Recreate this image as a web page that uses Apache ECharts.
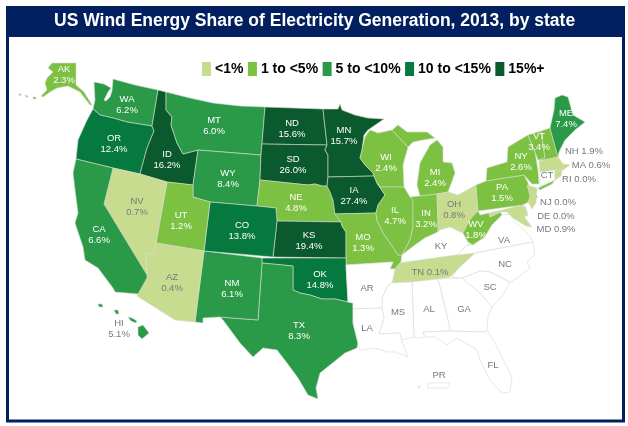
<!DOCTYPE html>
<html>
<head>
<meta charset="utf-8">
<script src="https://cdn.jsdelivr.net/npm/echarts@6/dist/echarts.min.js"></script>
<style>
html,body{margin:0;padding:0;background:#fff;}
#chart{width:628px;height:426px;}
</style>
</head>
<body>
<div id="chart"></div>
<script>
// share of generation, 2013
var states=["AK","WA","OR","ID","MT","WY","ND","SD","NE","MN","IA","KS","MO","OK","TX","NM","CO","UT","AZ","NV","CA","HI","WI","IL","MI","IN","OH","TN","WV","PA","NY","VT","NH","ME","MA","RI","NJ","DE","MD"];
var shares=[2.3,6.2,12.4,16.2,6.0,8.4,15.6,26.0,4.8,15.7,27.4,19.4,1.3,14.8,8.3,6.1,13.8,1.2,0.4,0.7,6.6,5.1,2.4,4.7,2.4,3.2,0.8,0.1,1.8,1.5,2.6,3.4,1.9,7.4,0.6,0.0,0.0,0.0,0.9];

// legend classes
var classLabels=["<1%","1 to <5%","5 to <10%","10 to <15%","15%+"];
var classFrom=[0,1,5,10,15];
var classColors=["#c8dc90","#7cc142","#2b9a48","#067a3e","#0a5a2e"];

// labels that stay grey, and labels written on one line
var greyLabels=["NV","AZ","OH","TN","HI","NH","MA","RI","NJ","DE","MD"];
var oneLine=["TN","NH","MA","RI","NJ","DE","MD"];

// base map, in the map's own units (y goes down)
var outlines={
AK:[[[52,63],[76,63],[76,85],[84,92],[92,105],[90,105],[80,92],[68,86],[57,88],[50,92],[43,97],[41,96],[47,90],[45,83],[47,78],[53,72],[48,68]],[[33,97],[36,97],[36,99],[33,99]],[[25,95],[28,96],[27,98]],[[18,94],[21,94],[21,96]]],
WA:[[[94,82],[104,84],[111,88],[108,92],[104,100],[106,101],[110,97],[112,91],[113,79],[135,85],[158,90],[152,126],[127,122],[113,118],[100,115],[93,109],[95,100]]],
OR:[[[93,109],[100,115],[113,118],[127,122],[152,126],[154,131],[147,148],[140,174],[113,168],[76,159],[78,140],[87,120]]],
ID:[[[158,90],[166,92],[166,110],[172,117],[171,125],[177,143],[183,154],[198,150],[193,185],[167,182],[140,174],[147,148],[154,131],[152,126]]],
MT:[[[166,92],[190,98],[213,103],[240,106],[265,107],[262,144],[261,155],[198,150],[183,154],[177,143],[171,125],[172,117],[166,110]]],
WY:[[[198,150],[261,155],[260,180],[257,206],[210,202],[193,197],[193,185]]],
ND:[[[265,107],[323,109],[327,145],[262,144]]],
SD:[[[262,144],[327,145],[325,150],[328,155],[328,177],[327,186],[322,186],[315,184],[308,185],[260,180],[261,155]]],
NE:[[[260,180],[308,185],[315,184],[322,186],[327,186],[330,192],[333,200],[335,214],[341,222],[277,221],[276,208],[257,206]]],
MN:[[[323,109],[338,109],[340,104],[342,110],[355,115],[368,118],[384,119],[368,130],[364,135],[362,150],[360,158],[365,165],[373,173],[374,176],[328,177],[328,155],[325,150],[327,145]]],
IA:[[[328,177],[374,176],[377,183],[385,195],[378,205],[376,213],[335,214],[333,200],[330,192],[327,186]]],
KS:[[[277,221],[341,222],[342,226],[346,232],[346,258],[273,257]]],
MO:[[[335,214],[376,213],[377,220],[383,233],[390,243],[398,255],[402,255],[401,262],[395,269],[390,269],[393,262],[346,265],[346,232],[342,226],[341,222]]],
OK:[[[262,258],[346,258],[346,265],[348,302],[335,299],[322,299],[310,295],[300,293],[293,290],[293,266],[262,263]]],
TX:[[[262,263],[293,266],[293,290],[300,293],[310,295],[322,299],[335,299],[348,302],[353,303],[353,323],[358,343],[357,348],[345,353],[320,373],[316,388],[318,399],[308,395],[298,378],[287,363],[277,350],[263,348],[253,357],[240,343],[223,320],[220,317],[258,320]]],
NM:[[[204,251],[262,258],[262,263],[258,320],[220,317],[203,318],[203,323],[195,322]]],
CO:[[[210,202],[257,206],[276,208],[277,221],[273,257],[204,251]]],
UT:[[[167,182],[193,185],[193,197],[210,202],[204,251],[156,243]]],
AZ:[[[156,243],[204,251],[195,322],[175,320],[137,296],[138,294],[147,278],[147,275],[146,253],[153,253]]],
NV:[[[113,168],[140,174],[167,182],[156,243],[153,253],[146,253],[147,275],[104,204]]],
CA:[[[76,159],[113,168],[104,204],[147,275],[147,278],[138,294],[115,292],[113,288],[98,268],[85,260],[83,247],[75,223],[78,213],[75,190],[73,173]]],
HI:[[[138,327],[143,325],[149,333],[142,339],[138,335]],[[128,317],[132,318],[137,321],[136,323],[131,321]],[[114,310],[118,310],[119,314],[116,314]],[[98,304],[102,304],[103,307],[99,307]]],
WI:[[[365,137],[370,130],[378,133],[392,130],[408,147],[403,165],[404,187],[380,187],[377,183],[374,176],[373,173],[365,165],[360,158],[362,150]]],
IL:[[[380,187],[404,187],[410,197],[413,200],[413,227],[410,240],[402,255],[398,255],[390,243],[383,233],[377,220],[376,213],[378,205],[385,195],[377,183]]],
MI:[[[392,130],[398,125],[407,132],[417,132],[427,132],[435,138],[423,140],[413,142],[408,147]],[[430,145],[437,140],[443,147],[443,162],[452,163],[455,173],[448,192],[437,194],[420,196],[417,185],[420,163]]],
IN:[[[413,200],[410,197],[420,196],[437,194],[438,223],[438,232],[425,238],[415,245],[402,255],[410,240],[413,227]]],
OH:[[[437,194],[448,192],[458,195],[476,185],[478,211],[472,217],[467,225],[463,233],[460,232],[450,227],[440,230],[438,232],[438,223]]],
KY:[[[402,255],[415,245],[425,238],[438,232],[440,230],[450,227],[460,232],[463,233],[468,242],[473,245],[467,245],[457,255],[400,263],[401,262]]],
TN:[[[400,263],[457,255],[475,253],[457,270],[450,277],[438,279],[412,282],[392,283],[395,269]]],
WV:[[[478,211],[480,215],[489,213],[490,217],[500,212],[502,215],[492,225],[485,237],[473,245],[468,242],[463,233],[467,225],[472,217]]],
VA:[[[457,255],[467,245],[473,245],[485,237],[492,225],[502,215],[510,214],[515,222],[522,228],[530,236],[533,242],[475,253]]],
PA:[[[476,185],[486,181],[524,175],[528,183],[530,190],[538,197],[532,200],[523,205],[478,211]]],
NY:[[[486,181],[487,168],[507,162],[508,147],[528,135],[535,152],[538,170],[539,184],[532,184],[524,175]],[[538,188],[555,180],[552,184],[540,190]]],
VT:[[[528,135],[541,131],[545,158],[538,160],[535,152]]],
NH:[[[541,131],[550,128],[558,157],[545,160],[538,160],[545,158]]],
ME:[[[550,128],[554,110],[555,98],[562,95],[568,97],[573,115],[585,122],[575,130],[565,140],[559,152],[558,157]]],
MA:[[[539,161],[558,157],[563,164],[570,165],[563,170],[556,170],[540,172]]],
CT:[[[540,172],[555,170],[555,180],[540,186]]],
RI:[[[555,170],[562,170],[561,176],[555,180]]],
NJ:[[[527,185],[537,188],[536,203],[532,209],[528,202],[530,196]]],
DE:[[[522,207],[525,206],[528,215],[524,217]]],
MD:[[[489,213],[523,205],[525,218],[532,227],[526,226],[521,223],[513,218],[507,212],[500,212],[490,217]]],
NC:[[[475,253],[533,242],[535,255],[527,262],[530,268],[517,278],[510,282],[490,272],[480,271],[462,278],[452,277],[457,270]]],
SC:[[[462,278],[480,271],[490,272],[510,282],[503,295],[492,307],[480,293],[470,285]]],
GA:[[[438,279],[462,278],[470,285],[480,293],[492,307],[488,317],[487,330],[485,332],[450,331],[447,315]]],
AL:[[[412,282],[438,279],[447,315],[450,331],[423,332],[425,337],[417,338],[414,337]]],
MS:[[[392,283],[412,282],[414,337],[402,340],[400,333],[379,334],[384,318],[382,308],[382,298],[388,285]]],
AR:[[[346,265],[393,262],[390,269],[395,269],[392,283],[388,285],[382,298],[382,308],[353,309],[353,303],[348,302]]],
LA:[[[353,309],[382,308],[384,318],[379,334],[400,333],[402,342],[408,357],[395,352],[387,352],[375,348],[360,350],[358,343],[353,323]]],
FL:[[[423,332],[450,331],[485,332],[487,330],[495,343],[512,377],[510,392],[502,393],[490,380],[480,360],[477,350],[457,338],[447,345],[435,337],[425,337]]],
PR:[[[428,383],[450,383],[448,388],[428,388]],[[418,386],[420,386],[420,388],[418,388]]]
};
var labelAnchors={
AK:[64,75],WA:[127,105],OR:[114,144],ID:[167,160],MT:[214,126],WY:[228,179],ND:[292,129],SD:[293,165],NE:[296,203],MN:[344,136],IA:[354,196],KS:[309,241],MO:[363,243],OK:[320,280],TX:[299,331],NM:[232,289],CO:[242,231],UT:[181,221],AZ:[172,283],NV:[137,207],CA:[99,235],HI:[119,329],WI:[386,163],IL:[395,216],MI:[435,178],IN:[426,219],OH:[454,210],KY:[441,246],TN:[430,272],WV:[476,230],VA:[504,240],PA:[502,193],NY:[521,162],VT:[539,142],NH:[584,151],ME:[566,119],MA:[591,165],CT:[547,175],RI:[579,179],NJ:[558,202],DE:[556,216],MD:[556,229],NC:[505,264],SC:[490,287],GA:[464,309],AL:[429,309],MS:[398,312],AR:[367,288],LA:[367,328],FL:[493,365],PR:[439,375]
};

function flip(pt){
    return [pt[0],-pt[1]];
}
var features=[];
for(var name in outlines){
    features.push({
        type:"Feature",
        properties:{name:name,cp:flip(labelAnchors[name])},
        geometry:{type:"MultiPolygon",coordinates:outlines[name].map(function (ring) {
            return [ring.map(flip)];
        })}
    });
}
echarts.registerMap("usShare",{type:"FeatureCollection",features:features});

var pieces=classLabels.map(function (label,i) {
    var piece={gte:classFrom[i],label:label,color:classColors[i]};
    if(i<classFrom.length-1){
        piece.lt=classFrom[i+1];
    }
    return piece;
});
var seriesData=states.map(function (s,i) {
    return {name:s,value:shares[i],label:{color:greyLabels.indexOf(s)>=0?"#77787b":"#fff"}};
});

var myChart=echarts.init(document.getElementById("chart"),null,{renderer:"canvas"});
myChart.setOption({
    animation:false,
    backgroundColor:"#fff",
    title:{
        text:"US Wind Energy Share of Electricity Generation, 2013, by state",
        left:54,top:12,padding:0,
        textStyle:{color:"#fff",fontFamily:"Liberation Sans",fontWeight:"bold",fontSize:17.5}
    },
    graphic:[
        {type:"rect",z:-1,shape:{x:7.5,y:7.5,width:616,height:413.5},style:{fill:"#fff",stroke:"#02205f",lineWidth:3}},
        {type:"rect",z:-1,shape:{x:6,y:6,width:619,height:31},style:{fill:"#02205f"}}
    ],
    visualMap:{
        type:"piecewise",orient:"horizontal",left:202,top:62,
        pieces:pieces,selectedMode:false,hoverLink:false,
        itemWidth:9,itemHeight:14,itemSymbol:"rect",itemGap:4.5,textGap:4,padding:0,
        seriesIndex:0,
        textStyle:{color:"#000",fontFamily:"Liberation Sans",fontWeight:"bold",fontSize:14}
    },
    series:[{
        type:"map",map:"usShare",silent:true,roam:false,
        aspectScale:1,
        boundingCoords:[[0,0],[628,-426]],
        layoutCenter:["50%","50%"],layoutSize:628,
        data:seriesData,
        itemStyle:{areaColor:"#fff",borderColor:"#d3dccd",borderWidth:0.6},
        emphasis:{disabled:true},select:{disabled:true},
        label:{
            show:true,color:"#77787b",fontFamily:"Liberation Sans",fontSize:9.5,lineHeight:11,
            formatter:function (p) {
                if(isNaN(p.value)){
                    return p.name;
                }
                return p.name+(oneLine.indexOf(p.name)>=0?" ":"\n")+p.value.toFixed(1)+"%";
            }
        }
    }]
});
</script>
</body>
</html>
